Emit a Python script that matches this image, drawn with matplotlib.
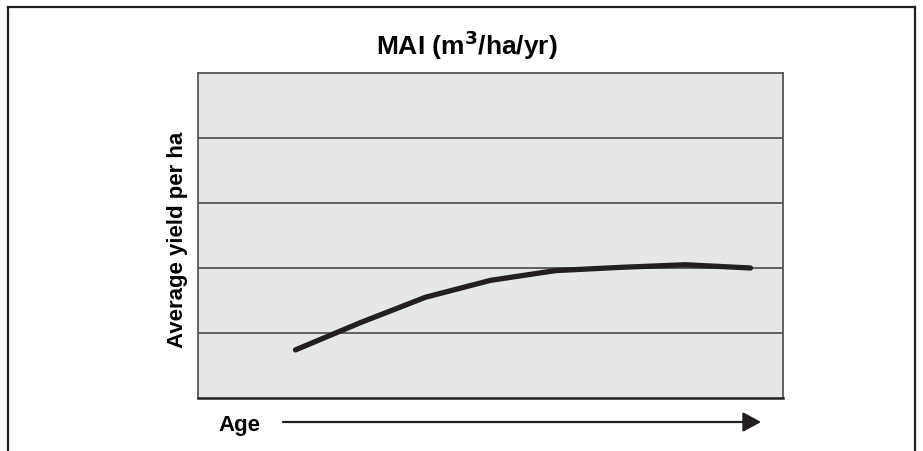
import matplotlib
matplotlib.use("Agg")
import matplotlib.pyplot as plt
from matplotlib.patches import FancyArrowPatch

ages = [1, 2, 3, 4, 5, 6, 7, 8]
mai = [0.74, 1.16, 1.55, 1.81, 1.96, 2.01, 2.05, 2.00]
grid_levels = [1, 2, 3, 4]

fam = "Liberation Sans"

W, H = 923, 452
fig = plt.figure(figsize=(W / 100, H / 100), dpi=100)
fig.patch.set_facecolor("white")

# outer frame (cropped at bottom)
fc = "#231f20"
fig.add_artist(plt.Line2D([8 / W, 8 / W], [0, 1 - 8 / H], color=fc, lw=1.6, transform=fig.transFigure))
fig.add_artist(plt.Line2D([915 / W, 915 / W], [0, 1 - 8 / H], color=fc, lw=1.6, transform=fig.transFigure))
fig.add_artist(plt.Line2D([8 / W, 915 / W], [1 - 8 / H, 1 - 8 / H], color=fc, lw=1.6, transform=fig.transFigure))

left, right, top, bottom = 198, 783, 74, 399
ax = fig.add_axes([left / W, 1 - bottom / H, (right - left) / W, (bottom - top) / H])
ax.set_facecolor("#e6e7e8")
ax.set_xlim(-0.5, 8.5)
ax.set_ylim(0, 5)
for g in grid_levels:
    ax.axhline(g, color="#555555", lw=1.3, zorder=1)
ax.plot(ages, mai, color=fc, lw=3.8, solid_capstyle="round", solid_joinstyle="round", zorder=3)
ax.set_xticks([])
ax.set_yticks([])
for s in ["left", "top", "right"]:
    ax.spines[s].set_color("#555555")
    ax.spines[s].set_linewidth(1.3)
ax.spines["bottom"].set_color(fc)
ax.spines["bottom"].set_linewidth(1.8)

# title with small superscript
fig.text(467 / W, 1 - 45 / H, "MAI (m$^{\\mathbf{3}}$/ha/yr)", ha="center", va="center",
         fontsize=19, fontweight="bold", family=fam)
fig.text(178 / W, 1 - 240 / H, "Average yield per ha", ha="center", va="center", rotation=90,
         fontsize=16, fontweight="bold", family=fam)
fig.text(218 / W, 1 - 426 / H, "Age", ha="left", va="center",
         fontsize=16, fontweight="bold", family=fam)
fig.add_artist(FancyArrowPatch(
    (283 / W, 1 - 423 / H), (761 / W, 1 - 423 / H), transform=fig.transFigure,
    arrowstyle="-|>,head_length=11,head_width=6", mutation_scale=1, color=fc, lw=1.6,
    shrinkA=0, shrinkB=0))

fig.savefig("out.png", dpi=100)
